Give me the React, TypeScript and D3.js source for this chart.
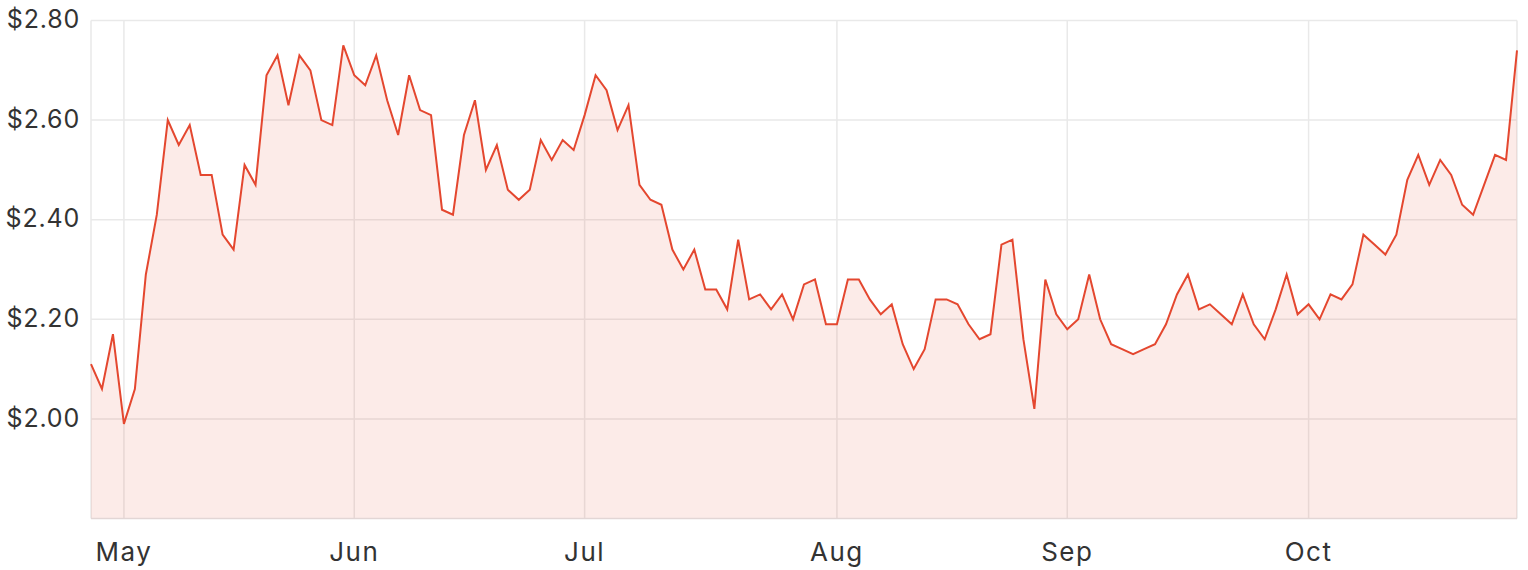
import * as d3 from "d3";
import React, { useEffect, useRef } from "react";

// closing prices, one per trading day
const prices = [
  2.11, 2.06, 2.17, 1.99, 2.06, 2.29, 2.41, 2.60, 2.55, 2.59,
  2.49, 2.49, 2.37, 2.34, 2.51, 2.47, 2.69, 2.73, 2.63, 2.73,
  2.70, 2.60, 2.59, 2.75, 2.69, 2.67, 2.73, 2.64, 2.57, 2.69,
  2.62, 2.61, 2.42, 2.41, 2.57, 2.64, 2.50, 2.55, 2.46, 2.44,
  2.46, 2.56, 2.52, 2.56, 2.54, 2.61, 2.69, 2.66, 2.58, 2.63,
  2.47, 2.44, 2.43, 2.34, 2.30, 2.34, 2.26, 2.26, 2.22, 2.36,
  2.24, 2.25, 2.22, 2.25, 2.20, 2.27, 2.28, 2.19, 2.19, 2.28,
  2.28, 2.24, 2.21, 2.23, 2.15, 2.10, 2.14, 2.24, 2.24, 2.23,
  2.19, 2.16, 2.17, 2.35, 2.36, 2.16, 2.02, 2.28, 2.21, 2.18,
  2.20, 2.29, 2.20, 2.15, 2.14, 2.13, 2.14, 2.15, 2.19, 2.25,
  2.29, 2.22, 2.23, 2.21, 2.19, 2.25, 2.19, 2.16, 2.22, 2.29,
  2.21, 2.23, 2.20, 2.25, 2.24, 2.27, 2.37, 2.35, 2.33, 2.37,
  2.48, 2.53, 2.47, 2.52, 2.49, 2.43, 2.41, 2.47, 2.53, 2.52,
  2.74,
];

// month labels and the index of the first trading day of each
const monthLabels = ["May", "Jun", "Jul", "Aug", "Sep", "Oct"];
const monthStart = [3, 24, 45, 68, 89, 111];

const yTicks = [2.0, 2.2, 2.4, 2.6, 2.8];

const App = () => {
  const ref = useRef<SVGSVGElement>(null);

  useEffect(() => {
    const width = 1528,
      height = 570;
    const left = 91,
      right = 1517,
      top = 20.5,
      bottom = 518.5;

    const svg = d3.select(ref.current);
    svg.selectAll("*").remove();
    svg.attr("width", width).attr("height", height);

    const x = d3.scaleLinear().domain([0, prices.length - 1]).range([left, right]);
    const y = d3.scaleLinear().domain([1.8, 2.8]).range([bottom, top]);

    const font = "Inter, 'Open Sans', sans-serif";
    const grid = "#e9e9e9";

    // horizontal grid
    svg.append("g")
      .selectAll("line")
      .data(yTicks)
      .enter().append("line")
      .attr("x1", left)
      .attr("x2", right)
      .attr("y1", (d) => y(d))
      .attr("y2", (d) => y(d))
      .attr("stroke", grid)
      .attr("stroke-width", 1.5);

    // vertical grid at month starts
    svg.append("g")
      .selectAll("line")
      .data(monthStart)
      .enter().append("line")
      .attr("x1", (d) => x(d))
      .attr("x2", (d) => x(d))
      .attr("y1", top)
      .attr("y2", bottom)
      .attr("stroke", grid)
      .attr("stroke-width", 1.5);

    // frame
    svg.append("line")
      .attr("x1", left).attr("x2", left)
      .attr("y1", top).attr("y2", bottom)
      .attr("stroke", grid).attr("stroke-width", 1.5);
    svg.append("line")
      .attr("x1", right).attr("x2", right)
      .attr("y1", top).attr("y2", bottom)
      .attr("stroke", grid).attr("stroke-width", 1.5);

    // area + line
    const area = d3.area<number>()
      .x((d, i) => x(i))
      .y0(bottom)
      .y1((d) => y(d));
    svg.append("path")
      .datum(prices)
      .attr("d", area)
      .attr("fill", "rgba(228, 72, 48, 0.11)");

    svg.append("line")
      .attr("x1", left).attr("x2", right)
      .attr("y1", bottom).attr("y2", bottom)
      .attr("stroke", "#e2d6d5").attr("stroke-width", 1.5);

    const line = d3.line<number>()
      .x((d, i) => x(i))
      .y((d) => y(d));
    svg.append("path")
      .datum(prices)
      .attr("d", line)
      .attr("fill", "none")
      .attr("stroke", "#e4472f")
      .attr("stroke-width", 2)
      .attr("stroke-linejoin", "miter");

    // y labels
    svg.append("g")
      .selectAll("text")
      .data(yTicks)
      .enter().append("text")
      .attr("x", 80)
      .attr("y", (d) => y(d) - 1)
      .attr("dy", "0.35em")
      .attr("text-anchor", "end")
      .attr("font-family", font)
      .attr("font-size", "25px")
      .attr("letter-spacing", "0.8px")
      .attr("fill", "#333333")
      .text((d) => "$" + d3.format(".2f")(d));

    // x labels
    svg.append("g")
      .selectAll("text")
      .data(monthStart)
      .enter().append("text")
      .attr("x", (d) => x(d))
      .attr("y", 561)
      .attr("text-anchor", "middle")
      .attr("font-family", font)
      .attr("font-size", "26px")
      .attr("letter-spacing", "1.5px")
      .attr("fill", "#333333")
      .text((d, i) => monthLabels[i]);
  }, []);

  return (
    <svg ref={ref} style={{ position: "absolute", left: 0, top: 0, display: "block" }} />
  );
};

export default App;
